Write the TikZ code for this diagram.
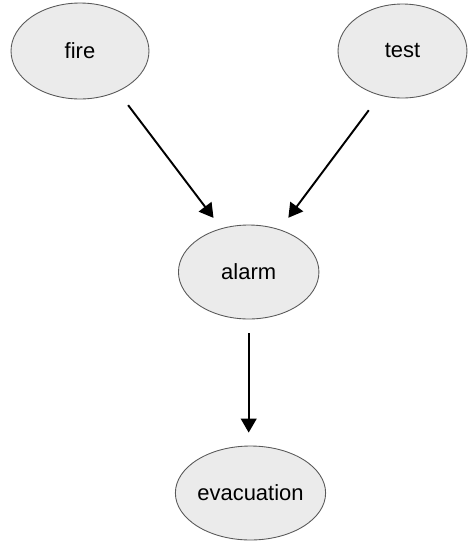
\documentclass[tikz,border=0pt]{standalone}
\usepackage{fontspec}
\setmainfont{Liberation Sans}
\usetikzlibrary{arrows.meta, shapes.geometric}

\begin{document}
\begin{tikzpicture}[x=0.02cm, y=-0.02cm,
  knoten/.style={ellipse, draw=black!65, line width=0.5pt, fill=black!8,
    inner sep=0pt, font=\fontsize{12.5}{15}\selectfont},
  pfeil/.style={-{Triangle[length=8pt,width=9pt]}, line width=1.1pt}]

\useasboundingbox (0,0) rectangle (470,542);

% Knoten
\node[knoten, minimum width=2.76cm, minimum height=1.92cm] (fire) at (80,51) {fire};
\node[knoten, minimum width=2.58cm, minimum height=1.88cm] (test) at (402.5,51) {test};
\node[knoten, minimum width=2.81cm, minimum height=1.88cm] (alarm) at (248.7,272) {alarm};
\node[knoten, minimum width=2.74cm, minimum height=1.88cm] (evacuation) at (250.5,493) {evacuation};

% Pfeile
\draw[pfeil, shorten <=0.34cm, shorten >=0.26cm] (fire.-47) -- (alarm.122);
\draw[pfeil, shorten <=0.37cm, shorten >=0.29cm] (test.-117) -- (alarm.54.5);
\draw[pfeil, shorten <=0.28cm, shorten >=0.26cm] (alarm.south) -- (alarm.south |- evacuation.north);

\end{tikzpicture}
\end{document}
